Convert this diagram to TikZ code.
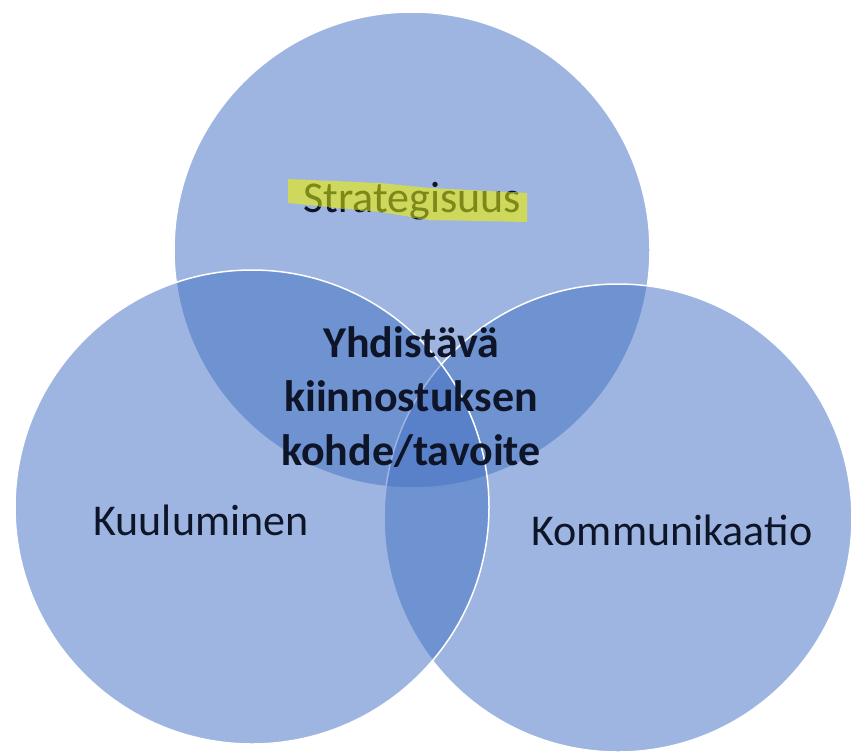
\documentclass[tikz,border=0pt]{standalone}
\usepackage{fontspec}
\setmainfont{Carlito}
\definecolor{vennblue}{HTML}{4472C4}
\definecolor{txtdark}{HTML}{0F1528}
\definecolor{hlyellow}{HTML}{CDD85C}
\definecolor{hlolive}{HTML}{7C8818}
\tikzset{
  venn/.style={circle, inner sep=0pt, outer sep=0pt, fill=vennblue, fill opacity=0.52, draw=white, draw opacity=1, line width=1.5pt},
  lbl/.style={anchor=base, inner sep=0pt, font=\fontsize{44}{54}\selectfont, text=txtdark},
  mid/.style={align=center, inner sep=0pt, font=\bfseries\fontsize{44}{54}\selectfont, text=txtdark}
}
\begin{document}
\begin{tikzpicture}[x=1pt,y=-1pt]
\useasboundingbox (0,0) rectangle (851,755);
\node[venn, minimum size=476pt] (top) at (412,250) {};
\node[venn, minimum size=468pt] (right) at (618,518) {};
\node[venn, minimum size=474pt] (left) at (252,507) {};
\node[lbl] (strat) at (412,212) {Strategisuus};
\fill[hlyellow] (288,179) -- (380,183) -- (430,188) -- (527,193) -- (527,222) -- (430,220) -- (380,212) -- (288,203) -- cycle;
\begin{scope}
\clip (288,179) -- (380,183) -- (430,188) -- (527,193) -- (527,222) -- (430,220) -- (380,212) -- (288,203) -- cycle;
\node[lbl, text=hlolive] (strathl) at (412,212) {Strategisuus};
\end{scope}
\node[lbl] (kuul) at (201,535) {Kuuluminen};
\node[lbl] (komm) at (672,545) {Kommunikaatio};
\node[mid, anchor=base] (center) at (411,465) {Yhdistävä\\kiinnostuksen\\kohde/tavoite};
\end{tikzpicture}
\end{document}
